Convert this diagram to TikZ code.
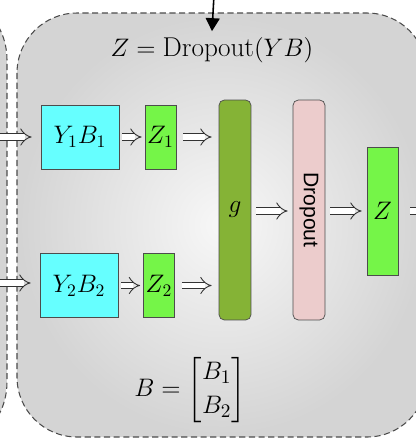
\documentclass[tikz,border=0pt]{standalone}
\usepackage{amsmath,amssymb}
\usepackage{fontspec}
\newfontfamily\dropfont{Liberation Sans}
\usepackage{tikz}
\usetikzlibrary{positioning,arrows.meta}
\definecolor{prodcyan}{RGB}{102,255,255}
\definecolor{zgreen}{RGB}{117,245,72}
\definecolor{golive}{RGB}{133,179,54}
\definecolor{droppink}{RGB}{236,204,204}
\tikzset{
  frame/.style  ={draw=black!70, line width=0.6pt, dash pattern=on 3.5pt off 2pt,
                  rounded corners=1.2cm, inner color=white!97!black, outer color=black!17},
  prod/.style   ={rectangle, draw=black!70, fill=prodcyan, minimum width=1.56cm,
                  minimum height=1.28cm, inner sep=0pt},
  zbox/.style   ={rectangle, draw=black!70, fill=zgreen, minimum width=0.62cm,
                  minimum height=1.28cm, inner sep=0pt},
  gbox/.style   ={rectangle, rounded corners=3pt, draw=black!70, fill=golive,
                  minimum width=0.64cm, minimum height=4.4cm, inner sep=0pt},
  dropbox/.style={rectangle, rounded corners=3pt, draw=black!70, fill=droppink,
                  minimum width=4.4cm, minimum height=0.64cm, inner sep=0pt, rotate=-90},
  dbl/.style    ={double, double distance=3pt, line width=0.5pt, draw=black!80,
                  -{Implies}, shorten <=0.1cm, shorten >=0.1cm},
  feed/.style   ={-{Triangle[length=0.26cm, width=0.28cm]}, line width=0.9pt},
  eq/.style     ={font=\fontsize{15.5}{19}\selectfont},
}

\begin{document}
\begin{tikzpicture}[x=0.02cm, y=-0.02cm, font=\Large]
  \clip (0,0) rectangle (416,441);
  % dashed blocks
  \shadedraw[frame, rounded corners=1.4cm] (-400,-10) rectangle (7,452);
  \shadedraw[frame] (17,13) rectangle (427,437);

  \coordinate (in) at (214,-5);
  \node[eq] (title) at (212,50) {$Z = \mathrm{Dropout}(YB)$};
  \draw[feed] (in) -- (title.north);

  % two branches
  \node[prod] (yb1) at (80,137) {$Y_1B_1$};
  \node[zbox] (z1) at (160.5,137) {$Z_1$};
  \node[prod] (yb2) at (79,285.5) {$Y_2B_2$};
  \node[zbox] (z2) at (159,285.5) {$Z_2$};

  \node[gbox] (g) at (235,210) {$g$};
  \node[dropbox] (drop) at (309,210) {\dropfont\large Dropout};
  \node[zbox, minimum height=2.56cm] (z) at (382.5,211) {$Z$};

  \coordinate (l1) at (-10,137);
  \coordinate (l2) at (-10,283);
  \coordinate (out) at (450,211);

  % arrows
  \draw[dbl, shorten >=0.18cm] (l1) -- (yb1);
  \draw[dbl, shorten >=0.18cm] (l2) -- (yb2.west |- l2);
  \draw[dbl, shorten <=0.06cm, shorten >=0.06cm] (yb1) -- (z1);
  \draw[dbl, shorten <=0.06cm, shorten >=0.06cm] (yb2) -- (z2);
  \draw[dbl, shorten <=0.14cm, shorten >=0.14cm] (z1.east) -- (g.west |- z1.east);
  \draw[dbl, shorten <=0.14cm, shorten >=0.14cm] (z2.east) -- (g.west |- z2.east);
  \draw[dbl] (g.east |- z) -- (drop.south |- z);
  \draw[dbl] (drop.north |- z) -- (z.west);
  \draw[dbl, shorten <=0.24cm] (z.east) -- (out);

  \node[eq] (beq) at (190,390) {$B = \begin{bmatrix} B_1 \\ B_2 \end{bmatrix}$};
\end{tikzpicture}
\end{document}
